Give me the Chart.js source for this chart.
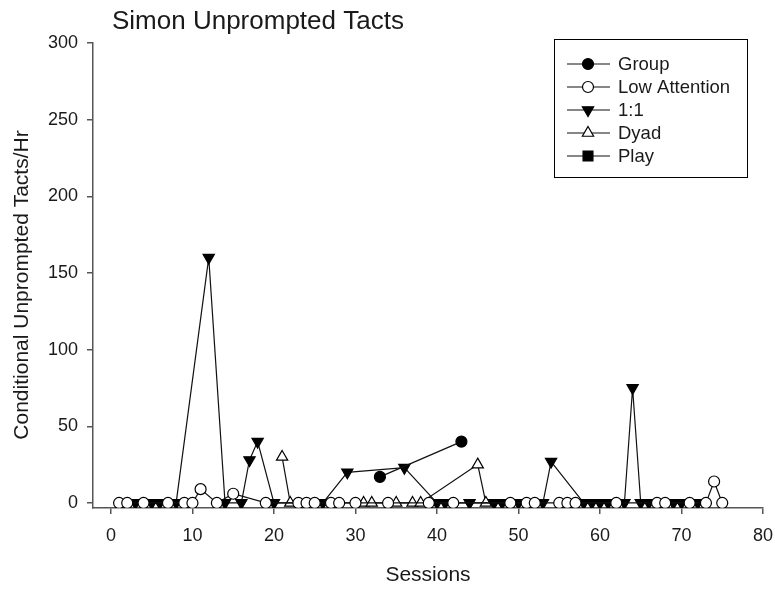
<!DOCTYPE html>
<html><head><meta charset="utf-8">
<script src="https://cdn.jsdelivr.net/npm/chart.js@4/dist/chart.umd.min.js"></script>
<style>html,body{margin:0;padding:0;background:#fff}</style>
</head><body>
<canvas id="c" width="775" height="589"></canvas>
<script>
const chartTitle = 'Simon Unprompted Tacts';
const xTitle = 'Sessions';
const yTitle = 'Conditional Unprompted Tacts/Hr';
const seriesNames = ['Group', 'Low Attention', '1:1', 'Dyad', 'Play'];
const xTicks = [0, 10, 20, 30, 40, 50, 60, 70, 80];
const yTicks = [0, 50, 100, 150, 200, 250, 300];

const groupSessions = [33, 43];
const groupValues = [17, 40];

const lowSessions = [1, 2, 4, 7, 9, 10, 11, 13, 15, 19, 23, 24, 25, 27, 28, 30, 34, 39, 42, 49, 51, 52, 55, 56, 57, 62, 67, 68, 71, 73, 74, 75];
const lowValues = [0, 0, 0, 0, 0, 0, 9, 0, 6, 0, 0, 0, 0, 0, 0, 0, 0, 0, 0, 0, 0, 0, 0, 0, 0, 0, 0, 0, 0, 0, 14, 0];

const oneSessions = [3, 5, 6, 8, 12, 14, 16, 17, 18, 20, 26, 29, 36, 40, 41, 44, 47, 48, 50, 53, 54, 58, 59, 60, 61, 63, 64, 65, 66, 69, 70, 72];
const oneValues = [0, 0, 0, 0, 160, 0, 0, 28, 40, 0, 0, 20, 23, 0, 0, 0, 0, 0, 0, 0, 27, 0, 0, 0, 0, 0, 75, 0, 0, 0, 0, 0];

const dyadSessions = [21, 22, 31, 32, 35, 37, 38, 45, 46];
const dyadValues = [30, 0, 0, 0, 0, 0, 0, 25, 0];

const playSessions = [];
const playValues = [];

const FONT = '"Liberation Sans", Arial, sans-serif';
const TEXT = '#1a1a1a';
const AXIS = '#555';

function pts(xs, ys) { return xs.map((x, i) => ({ x: x, y: ys[i] })); }

const styles = [
  { style: 'circle', rot: 0, r: 5.5, fill: '#000' },
  { style: 'circle', rot: 0, r: 5.5, fill: '#fff' },
  { style: 'triangle', rot: 180, r: 6.5, fill: '#000' },
  { style: 'triangle', rot: 0, r: 6.5, fill: '#fff' },
  { style: 'rect', rot: 0, r: 5.5, fill: '#000' }
];
const seriesData = [
  pts(groupSessions, groupValues),
  pts(lowSessions, lowValues),
  pts(oneSessions, oneValues),
  pts(dyadSessions, dyadValues),
  pts(playSessions, playValues)
];

const datasets = seriesNames.map((n, i) => ({
  label: n,
  data: seriesData[i],
  showLine: true,
  borderColor: '#111',
  borderWidth: 1.2,
  pointStyle: styles[i].style,
  pointRotation: styles[i].rot,
  pointRadius: styles[i].r,
  pointBackgroundColor: styles[i].fill,
  pointBorderColor: '#000',
  pointBorderWidth: 1.2,
  tension: 0
}));

function drawMarker(ctx, s, x, y) {
  ctx.save();
  ctx.beginPath();
  if (s.style === 'circle') {
    ctx.arc(x, y, s.r, 0, Math.PI * 2);
  } else if (s.style === 'triangle') {
    const rad = s.rot * Math.PI / 180;
    for (let k = 0; k < 3; k++) {
      const a = rad + k * 2 * Math.PI / 3;
      const px = x + Math.sin(a) * s.r, py = y - Math.cos(a) * s.r;
      if (k === 0) ctx.moveTo(px, py); else ctx.lineTo(px, py);
    }
    ctx.closePath();
  } else {
    const h = s.r * 0.9;
    ctx.rect(x - h, y - h, 2 * h, 2 * h);
  }
  ctx.fillStyle = s.fill;
  ctx.fill();
  ctx.lineWidth = 1.2;
  ctx.strokeStyle = '#000';
  ctx.stroke();
  ctx.restore();
}

const decor = {
  id: 'decor',
  afterDraw(chart) {
    const ctx = chart.ctx;
    ctx.save();
    ctx.fillStyle = TEXT;
    ctx.font = '26px ' + FONT;
    ctx.textBaseline = 'middle';
    ctx.textAlign = 'left';
    ctx.fillText(chartTitle, 112, 22);
    // y axis title
    ctx.save();
    ctx.translate(22, 285);
    ctx.rotate(-Math.PI / 2);
    ctx.textAlign = 'center';
    ctx.font = '21px ' + FONT;
    ctx.fillText(yTitle, 0, 0);
    ctx.restore();
    // legend box
    ctx.strokeStyle = '#000';
    ctx.lineWidth = 1;
    ctx.strokeRect(554.5, 39.5, 193, 138);
    ctx.font = '18.5px ' + FONT;
    ctx.textAlign = 'left';
    seriesNames.forEach((n, i) => {
      const y = 64 + i * 23;
      ctx.beginPath();
      ctx.moveTo(567, y); ctx.lineTo(610, y);
      ctx.lineWidth = 1.2; ctx.strokeStyle = '#111'; ctx.stroke();
      drawMarker(ctx, styles[i], 588, y);
      ctx.fillStyle = TEXT;
      ctx.fillText(n, 618, y + 1);
    });
    ctx.restore();
  }
};

new Chart(document.getElementById('c'), {
  type: 'line',
  data: { datasets: datasets },
  plugins: [decor],
  options: {
    responsive: false,
    animation: false,
    events: [],
    layout: { padding: { top: 43, right: 12, left: 0, bottom: 0 } },
    plugins: { legend: { display: false }, tooltip: { enabled: false }, title: { display: false } },
    scales: {
      x: {
        type: 'linear', min: -2.2, max: 80,
        afterBuildTicks: s => { s.ticks = xTicks.map(v => ({ value: v })); },
        afterFit: s => { s.height = 81; s.paddingRight = 0; s.paddingLeft = 0; },
        grid: { display: true, drawOnChartArea: false, drawTicks: true, tickLength: 6, color: AXIS, lineWidth: 1.5 },
        border: { display: true, color: AXIS, width: 1.5 },
        ticks: { color: TEXT, font: { family: FONT, size: 18 }, padding: 11, maxRotation: 0, autoSkip: false },
        title: { display: true, text: xTitle, color: TEXT, font: { family: FONT, size: 21 }, padding: { top: 0, bottom: 1 } }
      },
      y: {
        type: 'linear', min: -3.3, max: 300,
        afterBuildTicks: s => { s.ticks = yTicks.map(v => ({ value: v })); },
        afterFit: s => { s.width = 93; s.paddingTop = 0; s.paddingBottom = 0; },
        grid: { display: true, drawOnChartArea: false, drawTicks: true, tickLength: 6, color: AXIS, lineWidth: 1.5 },
        border: { display: true, color: AXIS, width: 1.5 },
        ticks: { color: TEXT, font: { family: FONT, size: 18 }, padding: 9, autoSkip: false },
        title: { display: false }
      }
    }
  }
});
</script>
</body></html>
